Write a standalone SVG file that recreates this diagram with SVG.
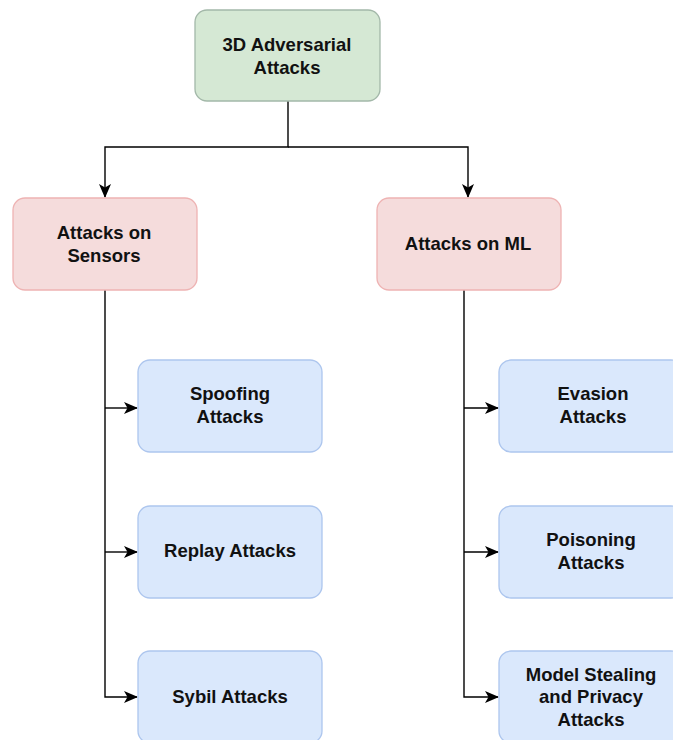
<svg xmlns="http://www.w3.org/2000/svg" width="673" height="740" viewBox="0 0 673 740">
  <style>
    .lbl { font-family: "Liberation Sans", Arial, sans-serif; font-size: 18.5px; font-weight: bold; fill: #111; text-anchor: middle; }
    .root { fill: #d5e8d4; stroke: #a3b8a9; stroke-width: 1.3; }
    .cat { fill: #f5dcdc; stroke: #eeb3b3; stroke-width: 1.3; }
    .leaf { fill: #dae8fc; stroke: #adc6ee; stroke-width: 1.3; }
    .edge { fill: none; stroke: #000; stroke-width: 1.4; }
  </style>
  <defs>
    <!-- block arrowhead with a shallow notch at the back -->
    <marker id="arrow" viewBox="0 0 14 14" refX="13" refY="7" markerWidth="14" markerHeight="14" markerUnits="userSpaceOnUse" orient="auto">
      <path d="M0,1 L14,7 L0,13 L3.5,7 Z" fill="#000"/>
    </marker>
  </defs>

  <g id="connectors">
    <path class="edge" d="M288,101 V147 H105 V197" marker-end="url(#arrow)"/>
    <path class="edge" d="M288,147 H468 V197" marker-end="url(#arrow)"/>
    <path class="edge" d="M105,290 V697 H137" marker-end="url(#arrow)"/>
    <path class="edge" d="M105,408 H137" marker-end="url(#arrow)"/>
    <path class="edge" d="M105,552 H137" marker-end="url(#arrow)"/>
    <path class="edge" d="M464,290 V697 H498" marker-end="url(#arrow)"/>
    <path class="edge" d="M464,408 H498" marker-end="url(#arrow)"/>
    <path class="edge" d="M464,552 H498" marker-end="url(#arrow)"/>
  </g>

  <g id="root-node">
    <rect class="root" x="195" y="10" width="185" height="91" rx="12"/>
    <text class="lbl" x="287" y="51">3D Adversarial</text>
    <text class="lbl" x="287" y="74">Attacks</text>
  </g>

  <g id="sensors-node">
    <rect class="cat" x="13" y="198" width="184" height="92" rx="12"/>
    <text class="lbl" x="104" y="239">Attacks on</text>
    <text class="lbl" x="104" y="262">Sensors</text>
  </g>

  <g id="ml-node">
    <rect class="cat" x="377" y="198" width="184" height="92" rx="12"/>
    <text class="lbl" x="468" y="250">Attacks on ML</text>
  </g>

  <g id="spoofing-node">
    <rect class="leaf" x="138" y="360" width="184" height="92" rx="12"/>
    <text class="lbl" x="230" y="400">Spoofing</text>
    <text class="lbl" x="230" y="423">Attacks</text>
  </g>

  <g id="replay-node">
    <rect class="leaf" x="138" y="506" width="184" height="92" rx="12"/>
    <text class="lbl" x="230" y="557">Replay Attacks</text>
  </g>

  <g id="sybil-node">
    <rect class="leaf" x="138" y="651" width="184" height="92" rx="12"/>
    <text class="lbl" x="230" y="703">Sybil Attacks</text>
  </g>

  <g id="evasion-node">
    <rect class="leaf" x="499" y="360" width="184" height="92" rx="12"/>
    <text class="lbl" x="593" y="400">Evasion</text>
    <text class="lbl" x="593" y="423">Attacks</text>
  </g>

  <g id="poisoning-node">
    <rect class="leaf" x="499" y="506" width="184" height="92" rx="12"/>
    <text class="lbl" x="591" y="546">Poisoning</text>
    <text class="lbl" x="591" y="569">Attacks</text>
  </g>

  <g id="model-stealing-node">
    <rect class="leaf" x="499" y="651" width="184" height="92" rx="12"/>
    <text class="lbl" x="591" y="681">Model Stealing</text>
    <text class="lbl" x="591" y="703">and Privacy</text>
    <text class="lbl" x="591" y="726">Attacks</text>
  </g>
</svg>
